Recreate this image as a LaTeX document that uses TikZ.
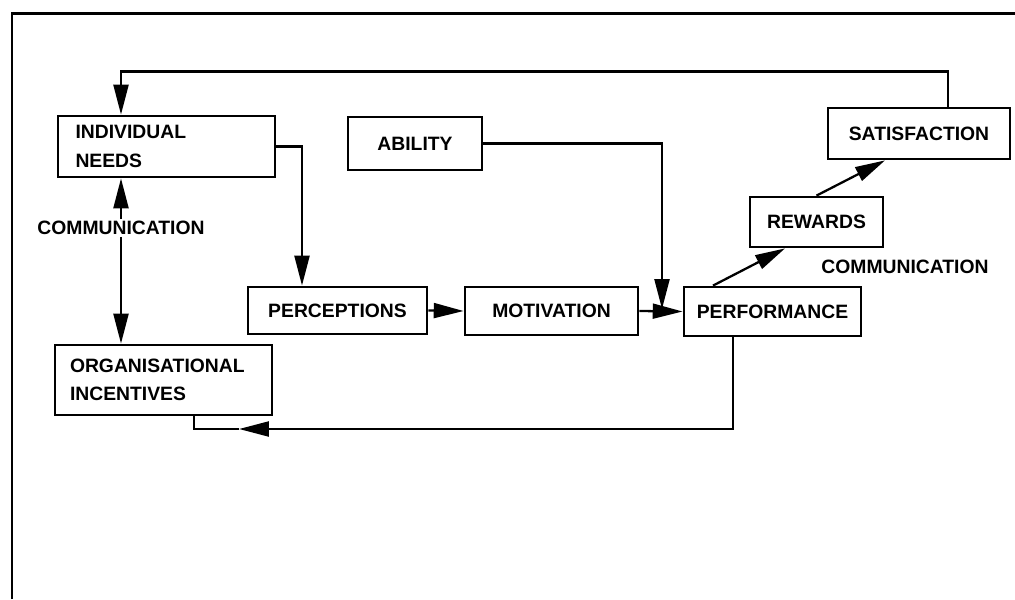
\documentclass[tikz,border=0pt]{standalone}
\usepackage{fontspec}
\setmainfont{Liberation Sans}
\usepackage{tikz}
\usetikzlibrary{arrows.meta,positioning,calc}

\begin{document}
\begin{tikzpicture}[
		stage/.style={draw,line width=1.6pt,inner sep=0pt,font=\bfseries\fontsize{11}{16}\selectfont},
		flow/.style={line width=1.3pt,-{Triangle[length=17pt,width=8.5pt]}},
		wire/.style={line width=1.3pt},
		commtext/.style={font=\bfseries\fontsize{11}{13}\selectfont,inner sep=1pt}]
		\useasboundingbox (0,0) rectangle (20.3,-11.98);
		% frame, only its left and top edges are on the page
		\draw[line width=1.4pt] (0.24,-11.98) -- (0.24,-0.27) -- (20.3,-0.27);
		% stages
		\node[stage,minimum width=4.34cm,minimum height=1.22cm,text width=3.64cm,align=left] (needs) at (3.33,-2.93) {INDIVIDUAL\\NEEDS};
		\node[stage,minimum width=2.68cm,minimum height=1.06cm] (ability) at (8.30,-2.87) {ABILITY};
		\node[stage,minimum width=3.64cm,minimum height=1.02cm] (satis) at (18.38,-2.67) {SATISFACTION};
		\node[stage,minimum width=2.66cm,minimum height=1.0cm] (rewards) at (16.33,-4.44) {REWARDS};
		\node[stage,minimum width=3.58cm,minimum height=0.94cm] (percep) at (6.75,-6.21) {PERCEPTIONS};
		\node[stage,minimum width=3.46cm,minimum height=0.96cm] (motiv) at (11.03,-6.22) {MOTIVATION};
		\node[stage,minimum width=3.54cm,minimum height=0.98cm] (perform) at (15.45,-6.23) {PERFORMANCE};
		\node[stage,minimum width=4.34cm,minimum height=1.40cm,text width=3.74cm,align=left] (incent) at (3.27,-7.60) {ORGANISATIONAL\\INCENTIVES};
		\node[commtext] (commL) at (2.42,-4.56) {COMMUNICATION};
		\node[commtext] (commR) at (18.10,-5.34) {COMMUNICATION};
		\coordinate (join) at (13.24,-6.18);
		\coordinate (back) at (4.78,-8.58);
		% connectors
		\draw[flow] ([xshift=0.58cm]satis.north) -- ++(0,0.70) -| (commL |- needs.north);
		\draw[flow] (needs.east) -| ([xshift=-0.71cm]percep.north);
		\draw[flow] (commL.north) -- (commL |- needs.south);
		\draw[flow] (commL.south) -- (commL |- incent.north);
		\draw[flow] (ability.east) -| (join);
		\draw[flow] (percep.east) -- (motiv.west);
		\draw[flow] (motiv.east) -- (perform.west);
		\draw[flow] ([xshift=-1.19cm]perform.north) -- ([xshift=-0.63cm]rewards.south);
		\draw[flow] (rewards.north) -- ([xshift=-0.68cm]satis.south);
		\draw[flow] ([xshift=-0.79cm]perform.south) |- (back);
		\draw[wire] (back) -| ([xshift=0.61cm]incent.south);
	\end{tikzpicture}
\end{document}
